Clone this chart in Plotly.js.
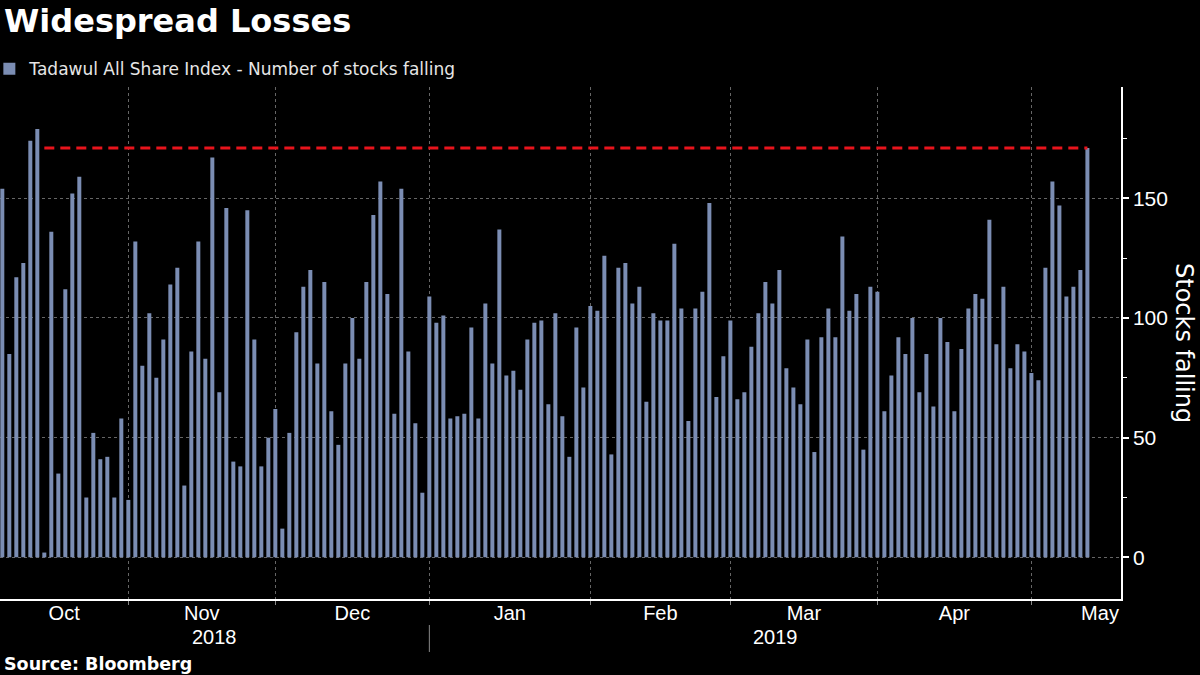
<!DOCTYPE html>
<html>
<head>
<meta charset="utf-8">
<script src="https://cdn.plot.ly/plotly-3.0.1.min.js"></script>
<style>
  html, body { margin: 0; padding: 0; background: #000; }
  #chart { width: 1200px; height: 675px; }
</style>
</head>
<body>
<div id="chart"></div>
<script>
// ---- Data (number of Tadawul stocks falling per trading day, Sun-Thu) ----
const firstDay = '2018-10-08';
const lastDay = '2019-05-13';
const monthNames = ['Oct', 'Nov', 'Dec', 'Jan', 'Feb', 'Mar', 'Apr', 'May'];
const yearLabels = ['2018', '2019'];
const octVals = [154, 85, 117, 123, 174, 179, 2, 136, 35, 112, 152, 159, 25, 52, 41, 42, 25, 58];
const novVals = [24, 132, 80, 102, 75, 91, 114, 121, 30, 86, 132, 83, 167, 69, 146, 40, 38, 145, 91, 38, 50];
const decVals = [62, 12, 52, 94, 113, 120, 81, 115, 61, 47, 81, 100, 83, 115, 143, 157, 110, 60, 154, 86, 56, 27];
const janVals = [109, 98, 101, 58, 59, 60, 96, 58, 106, 81, 137, 76, 78, 70, 91, 98, 99, 64, 102, 59, 42, 96, 71];
const febVals = [105, 103, 126, 43, 121, 123, 106, 113, 65, 102, 99, 99, 131, 104, 57, 104, 111, 148, 67, 84];
const marVals = [99, 66, 69, 88, 102, 115, 106, 120, 79, 71, 64, 91, 44, 92, 104, 92, 134, 103, 110, 45, 113];
const aprVals = [111, 61, 76, 92, 85, 100, 69, 85, 63, 100, 90, 61, 87, 104, 110, 108, 141, 89, 113, 79, 89, 86];
const mayVals = [77, 74, 121, 157, 147, 109, 113, 120, 171];
const yTicks = [0, 50, 100, 150];

// ---- Build trading-day calendar (Tadawul trades Sunday to Thursday) ----
const values = [].concat(octVals, novVals, decVals, janVals, febVals, marVals, aprVals, mayVals);
const dates = [];
(function () {
  const d = new Date(firstDay + 'T00:00:00Z');
  const end = new Date(lastDay + 'T00:00:00Z');
  while (d <= end) {
    const wd = d.getUTCDay();
    if (wd !== 5 && wd !== 6) dates.push(d.toISOString().slice(0, 10));
    d.setUTCDate(d.getUTCDate() + 1);
  }
})();
const idx = dates.map((_, i) => i);

// month starts (first trading day of each month)
const monthStarts = [];
dates.forEach((dt, i) => {
  if (i > 0 && dt.slice(0, 7) !== dates[i - 1].slice(0, 7)) monthStarts.push(i);
});

const xMin = -0.33, xMax = 159.8;
const bounds = [xMin].concat(monthStarts, [xMax]);
const labelPos = monthNames.map((m, k) => (bounds[k] + bounds[k + 1]) / 2);
labelPos[labelPos.length - 1] = xMax - 3;

// reference line at the last value, from the day after it was last exceeded
const lastVal = values[values.length - 1];
let j = values.length - 2;
while (j >= 0 && values[j] <= lastVal) j--;
const lineStart = j + 1;

const janIdx = monthStarts[2];
const toPaperX = v => (v - xMin) / (xMax - xMin);

const barColor = '#7b8db3';
const gridCol = '#666666';
const tickFont = { family: 'Liberation Sans, Arial, sans-serif', size: 20, color: '#ffffff' };

const traces = [
  {
    type: 'bar',
    x: idx,
    y: values,
    customdata: dates,
    hovertemplate: '%{customdata}: %{y}<extra></extra>',
    marker: { color: barColor, line: { width: 0 } },
    name: 'Tadawul All Share Index - Number of stocks falling',
    showlegend: true
  },
  {
    type: 'scatter',
    mode: 'lines',
    x: [idx[lineStart], idx[idx.length - 1]],
    y: [lastVal, lastVal],
    line: { color: '#e8141c', width: 3, dash: '10px,6px' },
    hoverinfo: 'skip',
    showlegend: false
  }
];

const layout = {
  width: 1200,
  height: 675,
  paper_bgcolor: '#000000',
  plot_bgcolor: '#000000',
  margin: { l: 0, r: 79, t: 87, b: 76, pad: 0, autoexpand: false },
  bargap: 0.43,
  title: {
    text: '<b>Widespread Losses</b>',
    font: { family: 'DejaVu Sans, sans-serif', size: 32, color: '#ffffff' },
    x: 4 / 1200, xref: 'container', xanchor: 'left',
    y: 1 - 10 / 675, yref: 'container', yanchor: 'top'
  },
  showlegend: true,
  legend: {
    orientation: 'h',
    x: -0.0095, xanchor: 'left',
    y: 1.035, yanchor: 'middle',
    bgcolor: 'rgba(0,0,0,0)',
    font: { family: 'DejaVu Sans, sans-serif', size: 17, color: '#e6e6e6' },
    itemclick: false, itemdoubleclick: false
  },
  xaxis: {
    range: [xMin, xMax],
    showline: true, linecolor: '#ffffff', linewidth: 1.5,
    zeroline: false,
    tickmode: 'array',
    tickvals: labelPos,
    ticktext: monthNames,
    ticks: '',
    ticklabelstandoff: -5,
    showgrid: false,
    tickfont: tickFont,
    minor: {
      tickmode: 'array',
      tickvals: monthStarts,
      ticks: 'outside', ticklen: 4, tickcolor: '#888888', tickwidth: 1,
      showgrid: true, gridcolor: gridCol, griddash: 'dot', gridwidth: 1
    },
    fixedrange: true
  },
  yaxis: {
    side: 'right',
    range: [-17.4, 196.5],
    tickmode: 'array',
    tickvals: yTicks,
    ticks: 'outside', ticklen: 6, tickwidth: 2, tickcolor: '#ffffff',
    showline: true, linecolor: '#ffffff', linewidth: 1.5,
    showgrid: true, gridcolor: gridCol, griddash: 'dot', gridwidth: 1,
    zeroline: false,
    tickfont: { family: 'Liberation Sans, Arial, sans-serif', size: 21, color: '#ffffff' },
    minor: {
      tickmode: 'array',
      tickvals: [25, 75, 125, 175],
      ticks: 'outside', ticklen: 4, tickcolor: '#ffffff', tickwidth: 1,
      showgrid: false
    },
    fixedrange: true
  },
  annotations: [
    {
      text: 'Stocks falling', textangle: 90,
      xref: 'paper', yref: 'paper', x: 1184 / 1121, y: 0.5,
      xanchor: 'center', yanchor: 'middle', showarrow: false,
      font: { family: 'DejaVu Sans, sans-serif', size: 24, color: '#ffffff' }
    },
    {
      text: yearLabels[0],
      xref: 'paper', yref: 'paper', x: toPaperX((xMin + janIdx) / 2), y: -0.074,
      xanchor: 'center', yanchor: 'middle', showarrow: false,
      font: tickFont
    },
    {
      text: yearLabels[1],
      xref: 'paper', yref: 'paper', x: toPaperX((janIdx + xMax) / 2), y: -0.074,
      xanchor: 'center', yanchor: 'middle', showarrow: false,
      font: tickFont
    },
    {
      text: '<b>Source: Bloomberg</b>',
      xref: 'paper', yref: 'paper', x: 2 / 1121, y: -0.126,
      xanchor: 'left', yanchor: 'middle', showarrow: false,
      font: { family: 'DejaVu Sans, sans-serif', size: 17.5, color: '#ffffff' }
    }
  ],
  shapes: [
    {
      type: 'line', xref: 'paper', yref: 'paper',
      x0: toPaperX(janIdx), x1: toPaperX(janIdx),
      y0: -0.0508, y1: -0.1035,
      line: { color: '#888888', width: 1 }
    }
  ]
};

Plotly.newPlot('chart', traces, layout, { displayModeBar: false });
</script>
</body>
</html>
